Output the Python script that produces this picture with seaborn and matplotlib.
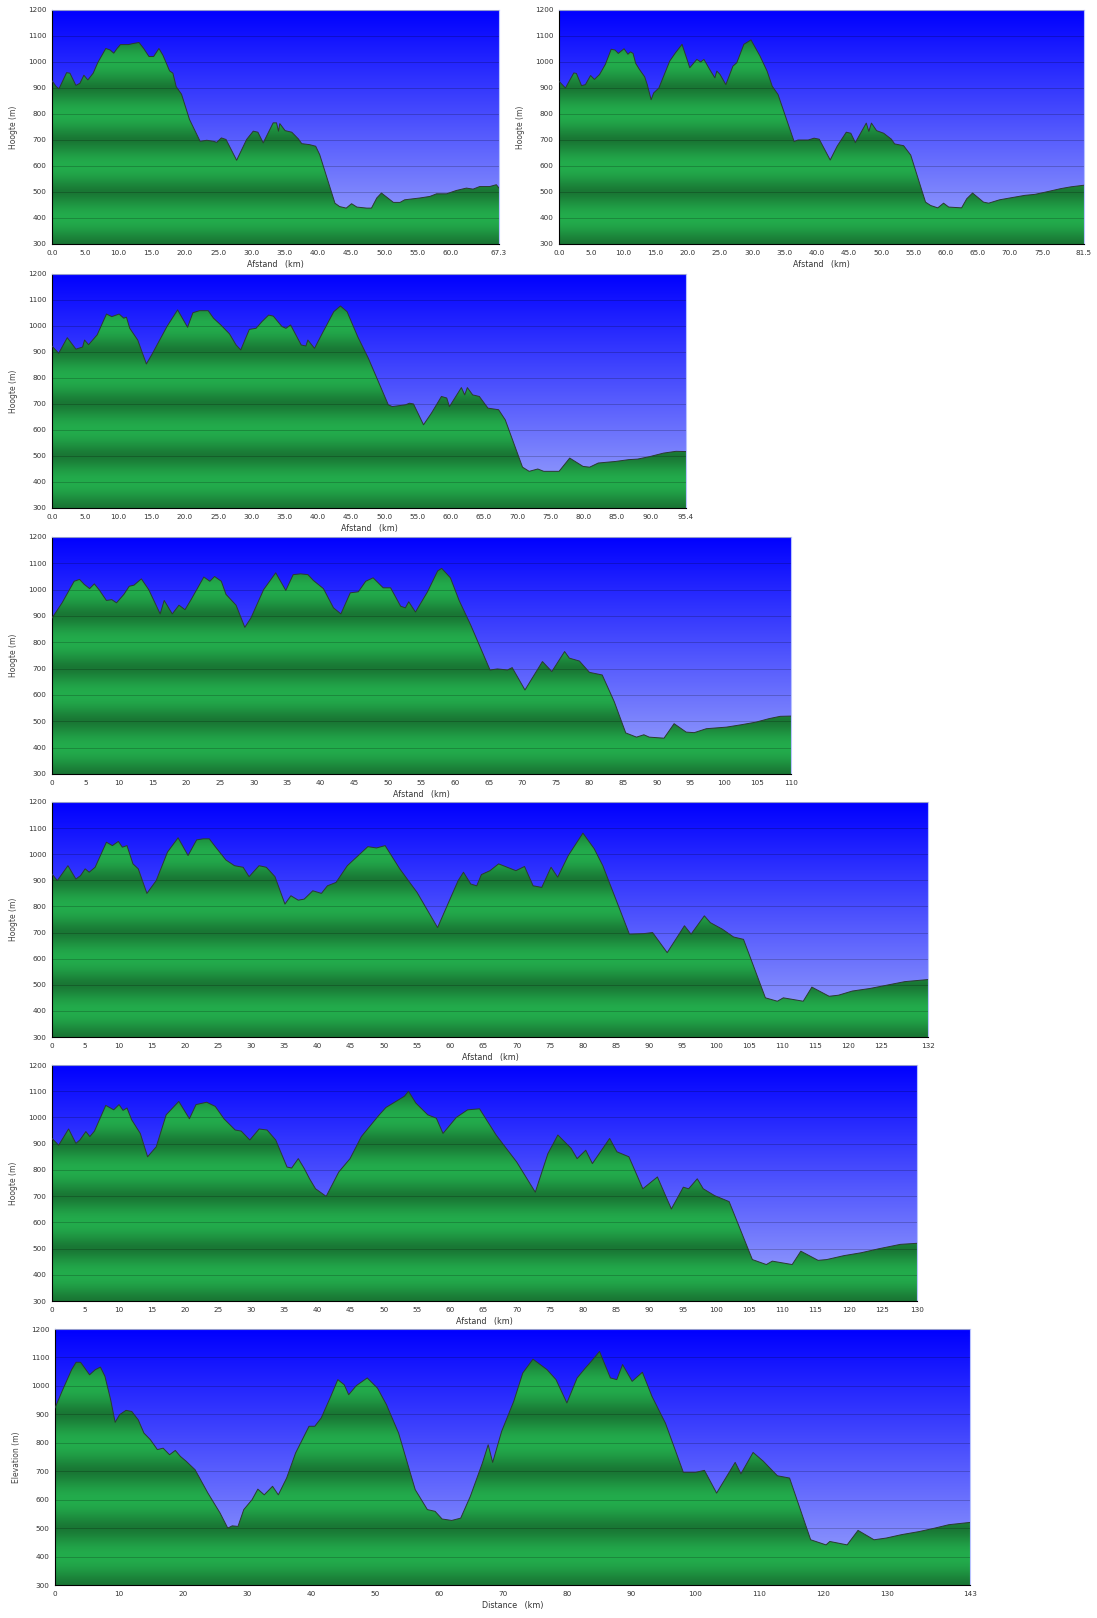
import numpy as np
import matplotlib
matplotlib.use("Agg")
import matplotlib.pyplot as plt
import seaborn as sns

sns.set_style("white")
plt.rcParams['font.family'] = ['DejaVu Sans']

# route 1 (67.3 km)
km_1 = [0, 0.65, 1.05, 2.2, 2.7, 3.6, 4.2, 4.8, 5.4, 6.2, 6.9, 8.1, 8.7, 9.3, 9.8, 10.3, 11.5, 12.2,
        13.1, 13.8, 14.6, 15.3, 16.1, 16.7, 17.7, 18.2, 18.7, 19.5, 20.7, 22.3, 23.3, 24.3, 24.8, 25.5,
        26.2, 27.8, 29.3, 30.3, 31.0, 31.8, 33.3, 33.8, 34.1, 34.3, 35.1, 36.1, 37.1, 37.6, 38.8, 39.7,
        40.3, 42.6, 43.3, 44.3, 45.1, 45.9, 47.4, 48.1, 48.9, 49.6, 50.4, 51.4, 52.4, 53.1, 55.4, 56.9,
        57.9, 59.4, 60.9, 62.4, 63.4, 64.4, 65.9, 66.9, 67.3]
m_1 = [928, 905, 897, 959, 957, 910, 918, 949, 931, 957, 998, 1052, 1047, 1034, 1052, 1067, 1067, 1071,
       1075, 1052, 1021, 1021, 1052, 1026, 966, 957, 905, 876, 779, 695, 699, 695, 691, 708,
       702, 622, 702, 734, 730, 689, 766, 766, 734, 763, 736, 730, 704, 686, 682, 676,
       644, 457, 444, 438, 455, 442, 438, 438, 477, 496, 480, 460, 460, 470, 477, 483,
       493, 493, 506, 515, 511, 521, 521, 528, 515]

# route 2 (81.5 km)
km_2 = [0, 1.0, 2.3, 2.7, 3.5, 4.1, 4.9, 5.5, 6.3, 7.2, 8.1, 8.7, 9.2, 10.1, 10.7, 11.1, 11.5, 11.9,
        12.5, 13.3, 13.7, 14.3, 14.7, 15.5, 17.2, 18.1, 19.1, 20.3, 21.4, 22.0, 22.5, 23.4, 24.2, 24.5,
        25.0, 25.9, 27.0, 27.6, 28.7, 29.8, 31.2, 32.3, 33.1, 34.0, 36.5, 37.1, 38.7, 39.6, 40.4, 42.1,
        43.2, 44.6, 45.3, 46.0, 47.7, 48.1, 48.5, 49.3, 50.4, 51.6, 52.1, 53.5, 54.6, 56.9, 57.7, 58.8,
        59.7, 60.5, 62.5, 63.3, 64.2, 65.9, 66.7, 68.4, 70.0, 72.3, 73.9, 75.6, 77.9, 79.5, 81.5]
m_2 = [926, 900, 958, 956, 909, 913, 948, 933, 952, 991, 1049, 1046, 1033, 1051, 1030, 1039, 1033, 995,
       971, 943, 913, 855, 881, 900, 1004, 1036, 1068, 978, 1010, 1000, 1010, 971, 939, 965,
       952, 913, 984, 997, 1068, 1085, 1023, 965, 907, 875, 694, 700, 700, 707, 703, 623,
       677, 730, 726, 690, 765, 733, 765, 736, 726, 703, 685, 678, 642, 461, 448, 439,
       457, 442, 439, 474, 496, 461, 457, 470, 477, 487, 491, 500, 513, 520, 526]

# route 3 (95.4 km)
km_3 = [0, 1.0, 2.3, 3.6, 4.6, 4.9, 5.5, 6.8, 8.2, 9.0, 10.1, 10.8, 11.2, 11.7, 12.9, 14.2, 15.0, 17.3,
        18.9, 20.4, 21.2, 22.2, 23.5, 24.3, 25.4, 26.7, 27.7, 28.4, 29.7, 30.7, 31.6, 32.6, 33.3, 34.6,
        35.2, 35.9, 37.5, 38.2, 38.5, 39.5, 40.8, 42.4, 43.4, 44.4, 46.0, 47.6, 50.6, 51.2, 53.2, 53.8,
        54.4, 55.9, 57.1, 58.6, 59.4, 59.8, 61.6, 62.1, 62.5, 63.3, 64.3, 65.6, 67.2, 68.2, 70.8, 71.8,
        73.1, 74.0, 76.3, 77.9, 79.9, 80.9, 82.2, 84.8, 86.8, 88.1, 90.0, 92.0, 93.9, 95.4]
m_3 = [923, 895, 955, 911, 919, 946, 928, 966, 1046, 1036, 1046, 1030, 1034, 991, 946, 854, 889, 998,
       1062, 995, 1051, 1059, 1059, 1030, 1004, 970, 927, 908, 987, 991, 1017, 1042, 1038, 998,
       991, 1004, 927, 923, 946, 914, 978, 1055, 1077, 1055, 959, 876, 697, 690, 697, 703,
       700, 620, 665, 729, 723, 690, 763, 735, 763, 735, 729, 684, 678, 639, 457, 441,
       450, 441, 441, 492, 460, 457, 473, 479, 486, 488, 498, 511, 518, 517]

# route 4 (110 km)
km_4 = [0, 1.5, 3.3, 4.1, 4.8, 5.6, 6.3, 7.0, 8.1, 8.9, 9.6, 10.7, 11.5, 12.2, 13.3, 14.4, 16.1, 16.7,
        17.9, 18.9, 19.8, 20.7, 22.6, 23.5, 24.2, 25.2, 25.9, 27.4, 28.7, 29.6, 31.5, 33.3, 34.8, 35.9,
        37.0, 38.1, 38.9, 40.4, 41.9, 43.0, 44.4, 45.6, 46.7, 47.8, 49.3, 50.4, 51.9, 52.6, 53.1, 54.1,
        55.9, 57.4, 58.0, 59.3, 60.6, 62.3, 65.2, 66.3, 67.8, 68.5, 70.4, 73.0, 74.4, 76.3, 77.0, 78.5,
        80.0, 81.9, 83.7, 85.4, 87.0, 88.1, 88.9, 91.1, 92.6, 94.4, 95.6, 97.4, 100.4, 102.6, 104.8,
        106.7, 108.4, 110]
m_4 = [892, 950, 1032, 1039, 1020, 1004, 1022, 1000, 959, 962, 950, 982, 1013, 1017, 1041, 1000, 908, 959,
       908, 941, 924, 962, 1048, 1032, 1050, 1032, 982, 941, 857, 892, 1000, 1064, 997, 1057,
       1060, 1057, 1035, 1004, 931, 908, 988, 992, 1032, 1045, 1007, 1007, 937, 931, 954, 915,
       992, 1071, 1081, 1045, 959, 867, 695, 699, 695, 704, 619, 727, 689, 765, 740, 729,
       686, 676, 574, 456, 440, 449, 440, 436, 491, 459, 457, 472, 478, 487, 497,
       510, 519, 520]

# route 5 (132 km)
km_5 = [0, 0.8, 2.4, 3.6, 4.3, 5.0, 5.6, 6.5, 8.2, 9.1, 10.0, 10.6, 11.3, 12.2, 13.0, 14.3, 15.7, 17.4,
        19.0, 20.5, 21.8, 22.8, 23.7, 24.6, 26.2, 27.5, 28.8, 29.7, 31.2, 32.3, 33.6, 35.1, 36.0, 37.1,
        38.0, 39.3, 40.6, 41.5, 42.8, 44.5, 47.6, 48.9, 50.2, 52.4, 55.0, 58.1, 61.2, 62.0, 63.1, 64.0,
        64.7, 66.0, 67.3, 69.9, 71.2, 72.5, 73.8, 75.2, 76.2, 77.8, 80.0, 81.7, 83.0, 87.0, 89.2, 90.5,
        92.7, 95.3, 96.3, 98.3, 99.2, 101.0, 102.7, 104.2, 107.5, 109.3, 110.2, 113.2, 114.5, 117.1,
        118.5, 120.6, 123.3, 125.9, 128.5, 132]
m_5 = [924, 899, 956, 905, 918, 944, 931, 950, 1046, 1033, 1049, 1027, 1033, 963, 944, 850, 899, 1008,
       1063, 995, 1055, 1059, 1059, 1029, 978, 956, 950, 914, 956, 950, 914, 809, 841, 824,
       828, 860, 850, 879, 892, 956, 1029, 1024, 1033, 944, 854, 719, 899, 931, 886, 879,
       922, 937, 963, 937, 953, 879, 873, 950, 912, 995, 1081, 1021, 956, 694, 696, 700,
       623, 726, 694, 764, 738, 713, 683, 674, 450, 437, 450, 437, 491, 456,
       460, 476, 486, 499, 512, 520]

# route 6 (130.3 km)
km_6 = [0, 1.0, 2.5, 3.6, 4.2, 5.1, 5.7, 6.4, 8.1, 9.3, 10.1, 10.7, 11.3, 12.0, 13.3, 14.4, 15.7, 17.2,
        19.1, 20.7, 21.7, 23.3, 24.6, 25.9, 27.6, 28.5, 29.8, 31.2, 32.4, 33.7, 35.4, 36.1, 37.1, 38.0,
        38.8, 39.7, 41.3, 43.2, 44.9, 46.6, 49.2, 50.3, 51.8, 53.1, 53.7, 54.8, 56.6, 57.9, 58.9, 60.9,
        62.6, 64.4, 66.9, 70.0, 72.8, 74.7, 76.2, 78.2, 79.1, 80.4, 81.4, 84.0, 85.1, 86.9, 89.0, 91.2,
        93.3, 95.1, 95.9, 97.2, 98.1, 99.8, 102.0, 105.5, 107.6, 108.5, 111.5, 112.8, 115.4, 116.7,
        119.3, 121.9, 124.5, 127.8, 130.3]
m_6 = [920, 894, 956, 901, 914, 946, 927, 948, 1046, 1029, 1049, 1027, 1036, 991, 939, 850, 888, 1010,
       1061, 995, 1049, 1058, 1042, 995, 952, 948, 914, 956, 952, 914, 811, 807, 843, 805,
       766, 728, 699, 792, 843, 927, 1007, 1038, 1061, 1081, 1100, 1055, 1010, 997, 939, 1000,
       1029, 1033, 933, 830, 715, 862, 933, 882, 843, 875, 824, 920, 869, 850, 728, 773,
       651, 734, 728, 766, 728, 702, 679, 458, 439, 452, 439, 490, 455, 458,
       473, 484, 499, 516, 520]

# route 7 (143 km)
km_7 = [0, 1.1, 2.6, 3.3, 4.0, 5.4, 6.3, 7.1, 7.8, 8.7, 9.4, 10.1, 11.1, 12.0, 13.0, 13.9, 14.9, 16.0,
        16.9, 17.9, 18.8, 19.6, 20.5, 21.9, 23.9, 25.8, 27.0, 27.7, 28.6, 29.5, 30.8, 31.7, 32.7, 34.0,
        34.9, 36.2, 37.6, 39.7, 40.6, 41.6, 43.1, 44.2, 45.2, 45.9, 47.1, 48.8, 50.4, 51.8, 53.7, 56.3,
        58.2, 59.4, 60.5, 62.0, 63.4, 64.9, 66.8, 67.7, 68.4, 69.8, 71.7, 73.1, 74.7, 76.9, 78.3, 80.0,
        81.6, 82.9, 83.8, 85.1, 86.8, 87.8, 88.7, 90.2, 91.8, 93.3, 95.4, 98.2, 100.1, 101.5, 103.4,
        106.3, 107.2, 109.1, 110.7, 112.9, 114.8, 118.1, 120.5, 121.1, 123.8, 125.5, 128.0, 129.9,
        132.3, 135.1, 137.5, 139.7, 143]
m_7 = [922, 981, 1057, 1083, 1083, 1039, 1057, 1066, 1034, 951, 872, 899, 914, 910, 881, 834, 811, 776,
       781, 758, 773, 752, 735, 705, 623, 553, 500, 508, 506, 565, 600, 637, 617, 647,
       617, 676, 764, 858, 858, 887, 963, 1022, 1004, 969, 1001, 1028, 992, 934, 834, 635,
       565, 559, 532, 527, 535, 611, 729, 793, 731, 840, 946, 1045, 1094, 1057, 1022, 940,
       1028, 1063, 1086, 1121, 1028, 1022, 1075, 1016, 1048, 963, 869, 696, 696, 703, 623,
       731, 691, 766, 735, 684, 676, 459, 441, 453, 441, 492, 459, 465,
       477, 488, 500, 512, 520]

routes_km = [km_1, km_2, km_3, km_4, km_5, km_6, km_7]
routes_m = [m_1, m_2, m_3, m_4, m_5, m_6, m_7]
route_length = [67.3, 81.5, 95.4, 110, 132, 130.3, 143]
end_labels = ["67.3", "81.5", "95.4", "110", "132", "130", "143"]
tick_step = [5, 5, 5, 5, 5, 5, 10]
tick_decimals = [1, 1, 1, 0, 0, 0, 0]
y_labels = ["Hoogte (m)"] * 6 + ["Elevation (m)"]
x_labels = ["Afstand   (km)"] * 6 + ["Distance   (km)"]

W, H = 1097, 1618
# pixel boxes: left, top, right, bottom
boxes = [(52, 10, 499, 244), (559, 10, 1084, 244), (52, 274, 686, 508),
         (52, 537, 791, 774), (52, 802, 928, 1037), (52, 1065, 917, 1301),
         (55, 1329, 970, 1585)]

# sky: blue at the top, pale lavender at the bottom
sky_top = np.array([0, 0, 255]) / 255
sky_bot = np.array([160, 170, 252]) / 255
v = np.linspace(0, 1, 256)[:, None]
sky = (sky_bot + (sky_top - sky_bot) * v)[:, None, :]

# ground: banded green, bright at even hundreds, dark at odd hundreds
elev_grid = np.linspace(300, 1200, 1801)
s = (0.5 + 0.5 * np.cos(np.pi * (elev_grid - 400) / 100)) ** 0.7
g_dark = np.array([25, 118, 52]) / 255
g_light = np.array([35, 172, 76]) / 255
ground = (g_dark + (g_light - g_dark) * s[:, None])[:, None, :]

fig = plt.figure(figsize=(W / 100, H / 100), dpi=100)

for i in range(7):
    l, t, r, b = boxes[i]
    ax = fig.add_axes([l / W, 1 - b / H, (r - l) / W, (b - t) / H])
    xmax = route_length[i]
    km = routes_km[i]
    elev = routes_m[i]

    ax.imshow(sky, extent=[0, xmax, 300, 1200], aspect='auto', origin='lower',
              interpolation='bilinear', zorder=0)
    poly = ax.fill_between(km, elev, 300, facecolor='none', edgecolor='none')
    gimg = ax.imshow(ground, extent=[0, xmax, 300, 1200], aspect='auto', origin='lower',
                     interpolation='bilinear', zorder=1)
    gimg.set_clip_path(poly.get_paths()[0], ax.transData)

    sns.lineplot(x=km, y=elev, ax=ax, color='#2c3a30', linewidth=0.7,
                 estimator=None, sort=False, zorder=3)

    ax.set_xlim(0, xmax)
    ax.set_ylim(300, 1200)
    ax.set_yticks(range(300, 1201, 100))
    ax.tick_params(axis='both', labelsize=5.2, colors='#333333', length=2.5, width=0.6, pad=1.5)

    ticks = list(np.arange(0, xmax - 3, tick_step[i]))
    if tick_decimals[i]:
        labels = [f"{x:.1f}" for x in ticks]
    else:
        labels = [f"{x:.0f}" for x in ticks]
    ax.set_xticks(ticks + [xmax])
    ax.set_xticklabels(labels + [end_labels[i]])

    ax.set_axisbelow(False)
    ax.grid(axis='y', color='black', alpha=0.2, linewidth=0.7)
    ax.grid(axis='x', visible=False)
    for line in ax.get_ygridlines():
        line.set_zorder(2.5)

    ax.set_ylabel(y_labels[i], fontsize=5.5, color='#444444', labelpad=7)
    ax.set_xlabel(x_labels[i], fontsize=5.8, color='#333333', labelpad=3)
    for side in ['left', 'bottom']:
        ax.spines[side].set_color('black')
        ax.spines[side].set_linewidth(0.8)
    for side in ['top', 'right']:
        ax.spines[side].set_color('#b8c2ff')
        ax.spines[side].set_linewidth(0.8)

fig.savefig("out.png", dpi=100)
